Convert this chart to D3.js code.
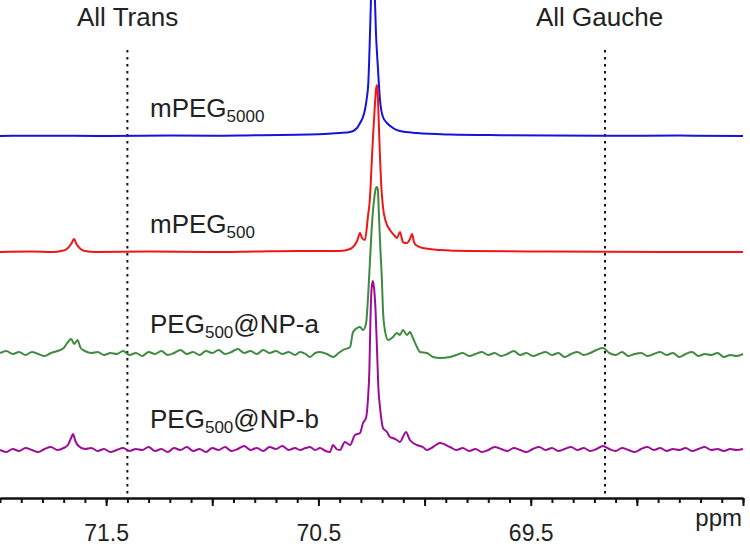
<!DOCTYPE html>
<html>
<head>
<meta charset="utf-8">
<script src="https://cdn.jsdelivr.net/npm/d3@7"></script>
<style>
  body { margin: 0; background: #fff; }
  text { font-family: "Liberation Sans", Arial, sans-serif; fill: #222; }
</style>
</head>
<body>
<div id="nmr"></div>
<script>
// spectra: [ppm, intensity above own baseline]
var mPEG5000 = [
  [72.00, 0], [71.80, 0.3], [71.50, 0], [71.20, 0.5], [71.00, 0.3], [70.80, 0.8],
  [70.60, 1.2], [70.50, 1.8], [70.45, 2.3], [70.40, 3], [70.351, 4], [70.318, 8],
  [70.304, 13], [70.290, 19], [70.281, 26], [70.272, 38], [70.265, 53], [70.257, 103],
  [70.252, 140], [70.244, 175], [70.236, 150], [70.229, 103], [70.220, 69], [70.210, 36],
  [70.196, 19], [70.177, 13], [70.149, 8], [70.116, 5], [70.036, 3], [69.880, 1.5],
  [69.645, 0.8], [69.174, 0.3], [68.80, 0.4], [68.50, 0]
];

var mPEG500 = [
  [72.00, 0], [71.85, 0.5], [71.75, 0], [71.71, 1], [71.685, 3], [71.665, 8], [71.651, 13],
  [71.64, 8], [71.62, 3], [71.60, 1], [71.55, 0], [71.30, 0.5], [71.00, 0], [70.80, 0.5],
  [70.60, 1], [70.399, 1], [70.351, 3], [70.337, 5], [70.318, 11], [70.304, 19],
  [70.295, 14], [70.281, 12], [70.267, 35], [70.257, 55], [70.250, 85], [70.243, 115],
  [70.236, 140], [70.229, 162], [70.224, 167], [70.220, 155], [70.215, 125], [70.210, 95],
  [70.205, 70], [70.196, 45], [70.182, 30], [70.163, 22], [70.144, 17], [70.130, 14],
  [70.116, 20], [70.102, 10], [70.092, 9], [70.083, 9], [70.069, 13], [70.059, 18],
  [70.050, 10], [70.041, 7], [70.008, 4], [69.927, 2], [69.786, 1], [69.409, 0.5], [68.50, 0]
];

var pegNPa = [
  [72.00, 1], [71.97, 3], [71.94, 0], [71.91, 2], [71.88, -1], [71.85, 2], [71.82, 0],
  [71.79, -2], [71.76, 1], [71.73, 3], [71.70, 6], [71.68, 12], [71.665, 15], [71.65, 10],
  [71.635, 14], [71.62, 6], [71.60, 3], [71.57, 1], [71.54, 2], [71.51, -1], [71.48, 1],
  [71.45, 0], [71.42, 3], [71.39, -1], [71.36, 1], [71.33, -2], [71.30, 2], [71.27, 0],
  [71.24, 3], [71.21, -1], [71.18, 1], [71.15, 4], [71.12, 0], [71.09, 2], [71.06, -1],
  [71.03, 3], [71.00, 1], [70.97, 4], [70.94, 0], [70.91, 2], [70.88, 5], [70.85, 1],
  [70.82, 3], [70.79, 0], [70.76, 4], [70.73, 1], [70.70, 3], [70.67, 0], [70.64, 2],
  [70.61, -1], [70.587, 2], [70.56, 0], [70.540, -3], [70.515, 1], [70.493, 2], [70.46, 0],
  [70.431, -3], [70.405, 1], [70.384, 4], [70.351, 7], [70.337, 22], [70.318, 26],
  [70.304, 27], [70.290, 24], [70.276, 30], [70.267, 54], [70.257, 94], [70.248, 129],
  [70.238, 154], [70.229, 166], [70.224, 167], [70.220, 164], [70.215, 139], [70.208, 104],
  [70.201, 74], [70.196, 44], [70.187, 24], [70.172, 14], [70.149, 17], [70.130, 21],
  [70.116, 19], [70.102, 24], [70.083, 19], [70.069, 22], [70.055, 16], [70.036, 7],
  [70.022, 2], [69.989, 1], [69.960, -3], [69.927, -4], [69.880, -3], [69.85, -1],
  [69.82, 1], [69.79, -2], [69.76, 0], [69.73, 2], [69.70, -1], [69.67, 1], [69.64, -2],
  [69.61, 0], [69.58, 3], [69.55, -1], [69.52, 1], [69.49, -2], [69.46, 0], [69.43, 2],
  [69.40, -1], [69.37, 1], [69.34, -3], [69.31, 0], [69.28, 2], [69.25, -1], [69.22, 1],
  [69.19, 4], [69.16, 6], [69.13, 1], [69.10, -1], [69.07, 2], [69.04, -2], [69.01, 0],
  [68.98, 1], [68.95, -2], [68.92, 0], [68.89, 2], [68.86, -1], [68.83, 1], [68.80, -3],
  [68.77, 0], [68.74, 2], [68.71, -2], [68.68, 0], [68.65, -1], [68.62, 1], [68.59, -3],
  [68.56, -1], [68.53, -2], [68.50, 0]
];

var pegNPb = [
  [72.00, 0], [71.97, -2], [71.94, 1], [71.91, -1], [71.88, 2], [71.85, 0], [71.82, -2],
  [71.79, 1], [71.76, 3], [71.73, 0], [71.70, 2], [71.68, 5], [71.665, 12], [71.656, 16],
  [71.645, 9], [71.63, 4], [71.60, 1], [71.57, 2], [71.54, -1], [71.51, 1], [71.48, -2],
  [71.45, 0], [71.42, 2], [71.39, -1], [71.36, 1], [71.33, 0], [71.30, 3], [71.27, -1],
  [71.24, 1], [71.21, -2], [71.18, 2], [71.15, 0], [71.12, 3], [71.09, -1], [71.06, 1],
  [71.03, -2], [71.00, 2], [70.97, 0], [70.94, 3], [70.91, -1], [70.88, 1], [70.85, 4],
  [70.82, 0], [70.79, 2], [70.76, -1], [70.73, 3], [70.70, 1], [70.67, 4], [70.64, 0],
  [70.61, 2], [70.587, 0], [70.56, 2], [70.540, 3], [70.515, 0], [70.493, 2], [70.466, -1],
  [70.446, -2], [70.431, 5], [70.415, 1], [70.399, 0], [70.375, 8], [70.351, 5],
  [70.328, 15], [70.304, 17], [70.290, 27], [70.276, 32], [70.267, 50], [70.260, 80],
  [70.255, 130], [70.250, 160], [70.244, 169], [70.238, 162], [70.231, 140], [70.224, 100],
  [70.217, 60], [70.210, 43], [70.203, 30], [70.196, 22], [70.177, 18], [70.163, 13],
  [70.149, 12], [70.130, 10], [70.116, 8], [70.102, 13], [70.088, 18], [70.069, 10],
  [70.036, 5], [70.008, 3], [69.989, 0], [69.960, 3], [69.927, 7], [69.880, 3],
  [69.85, 0], [69.82, 2], [69.79, -1], [69.76, 1], [69.73, -2], [69.70, 0], [69.67, 3],
  [69.64, 1], [69.61, -1], [69.58, 2], [69.55, 0], [69.52, -2], [69.49, 1], [69.46, 3],
  [69.43, 0], [69.40, 2], [69.37, -1], [69.34, 1], [69.31, 3], [69.28, 0], [69.25, 2],
  [69.22, -1], [69.19, 1], [69.16, 4], [69.13, 1], [69.10, -1], [69.07, 2], [69.04, 0],
  [69.01, -2], [68.98, 1], [68.95, 3], [68.92, 0], [68.89, 2], [68.86, -1], [68.83, 1],
  [68.80, 0], [68.77, 2], [68.74, -1], [68.71, 1], [68.68, 3], [68.65, 0], [68.62, 1],
  [68.59, -1], [68.56, 1], [68.53, 0], [68.50, 1]
];

var markerPpm = [71.40, 69.15];
var markerLabels = ["All Trans", "All Gauche"];
var majorTicks = [71.5, 71.0, 70.5, 70.0, 69.5, 69.0, 68.5];
var labelTicks = [71.5, 70.5, 69.5];

var width = 750;
var height = 547;
var axisY = 498;

var svg = d3.select("#nmr")
    .append("svg")
    .attr("width", width)
    .attr("height", height);

var x = d3.scaleLinear()
    .domain([72.0, 68.5])
    .range([0, 743]);

var y = d3.scaleLinear()
    .domain([0, 498])
    .range([498, 0]);

// baseline offset of each trace (in the same units as y)
var traces = [
  {data: mPEG5000, off: 362, color: "#1414dc", label: ["mPEG", "5000", ""], ly: 117},
  {data: mPEG500, off: 246, color: "#f01616", label: ["mPEG", "500", ""], ly: 233},
  {data: pegNPa, off: 144, color: "#3f8a3f", label: ["PEG", "500", "@NP-a"], ly: 333},
  {data: pegNPb, off: 48, color: "#9c0c98", label: ["PEG", "500", "@NP-b"], ly: 428}
];

// dotted marker lines
svg.selectAll(".marker")
  .data(markerPpm)
  .enter().append("line")
    .attr("class", "marker")
    .attr("x1", function(d) { return x(d); })
    .attr("x2", function(d) { return x(d); })
    .attr("y1", 50)
    .attr("y2", axisY)
    .attr("stroke", "#111")
    .attr("stroke-width", 2)
    .attr("stroke-dasharray", "2.5,4.5");

svg.selectAll(".mlabel")
  .data(markerLabels)
  .enter().append("text")
    .attr("class", "mlabel")
    .attr("x", function(d, i) { return i == 0 ? 77 : 536; })
    .attr("y", 26)
    .style("font-size", "26px")
    .text(function(d) { return d; });

var line = d3.line()
    .curve(d3.curveMonotoneX);

traces.forEach(function(t) {
  line.x(function(d) { return x(d[0]); })
      .y(function(d) { return y(t.off + d[1]); });
  svg.append("path")
    .datum(t.data)
    .attr("fill", "none")
    .attr("stroke", t.color)
    .attr("stroke-width", 2)
    .attr("stroke-linejoin", "round")
    .attr("d", line);

  var lab = svg.append("text")
    .attr("x", 150)
    .attr("y", t.ly)
    .style("font-size", "26px");
  lab.append("tspan").text(t.label[0]);
  lab.append("tspan").attr("dy", 5).style("font-size", "17px").text(t.label[1]);
  if (t.label[2]) lab.append("tspan").attr("dy", -5).text(t.label[2]);
});

// axis: minor ticks every 0.1 ppm, major every 0.5
var minor = d3.range(0, 36).map(function(i) { return +(72 - i * 0.1).toFixed(1); });

var gMinor = svg.append("g")
    .attr("transform", "translate(0," + axisY + ")")
    .call(d3.axisBottom(x).tickValues(minor).tickSize(5).tickSizeOuter(0).tickFormat(""));

var gMajor = svg.append("g")
    .attr("transform", "translate(0," + axisY + ")")
    .call(d3.axisBottom(x).tickValues(majorTicks).tickSize(8).tickSizeOuter(0)
      .tickFormat(function(d) { return labelTicks.indexOf(d) >= 0 ? d3.format(".1f")(d) : ""; }));

svg.selectAll(".domain, .tick line")
    .attr("stroke", "#111")
    .attr("stroke-width", 2);

gMajor.selectAll("text")
    .attr("y", 27)
    .attr("dy", "0.71em")
    .attr("fill", "#222")
    .style("font-family", "'Liberation Sans', Arial, sans-serif")
    .style("font-size", "23px");

svg.append("text")
    .attr("x", 742)
    .attr("y", 526)
    .attr("text-anchor", "end")
    .style("font-size", "24px")
    .text("ppm");
</script>
</body>
</html>
